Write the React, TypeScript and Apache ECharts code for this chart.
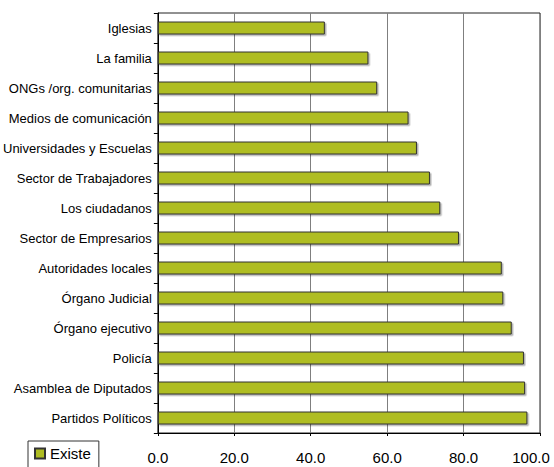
import React, { useEffect, useRef } from "react";
import * as echarts from "echarts";

const categories = [
  "Iglesias",
  "La familia",
  "ONGs /org. comunitarias",
  "Medios de comunicación",
  "Universidades y Escuelas",
  "Sector de Trabajadores",
  "Los ciudadanos",
  "Sector de Empresarios",
  "Autoridades locales",
  "Órgano Judicial",
  "Órgano ejecutivo",
  "Policía",
  "Asamblea de Diputados",
  "Partidos Políticos",
];
const existeValues = [43.7, 55.1, 57.4, 65.6, 67.8, 71.2, 73.9, 78.8, 90.0, 90.4, 92.6, 95.8, 96.1, 96.7];
const seriesName = "Existe";

export default function App() {
  const ref = useRef<HTMLDivElement>(null);
  useEffect(() => {
    if (!ref.current) return;
    const chart = echarts.init(ref.current, null, { renderer: "svg" });
    const font = "'Liberation Sans', Arial, sans-serif";
    chart.setOption({
      animation: false,
      backgroundColor: "#ffffff",
      textStyle: { fontFamily: font },
      grid: {
        left: 153,
        right: 14,
        top: 13,
        bottom: 34,
        show: true,
        borderColor: "#222",
        borderWidth: 1,
        backgroundColor: "transparent",
      },
      legend: {
        show: true,
        data: [seriesName],
        left: 28,
        top: 441,
        orient: "horizontal",
        itemWidth: 10,
        itemHeight: 10,
        icon: "rect",
        borderColor: "#333",
        borderWidth: 1,
        padding: [5, 8, 8, 6],
        textStyle: { fontSize: 15, color: "#000", fontFamily: font },
      },
      xAxis: {
        type: "value",
        min: 0,
        max: 100,
        interval: 20,
        axisLine: { show: true, lineStyle: { color: "#000", width: 1 } },
        axisTick: { show: true, length: 3, lineStyle: { color: "#000" } },
        axisLabel: {
          fontSize: 15,
          color: "#000",
          margin: 17,
          fontFamily: font,
          formatter: (v: number) => (v === 100 ? "{last|100.0}" : v.toFixed(1)),
          rich: {
            last: { fontSize: 15, color: "#000", fontFamily: font, padding: [0, 18, 0, 0] },
          },
        },
        splitLine: { show: true, lineStyle: { color: "#7f7f7f", width: 1 } },
      },
      yAxis: {
        type: "category",
        data: categories,
        inverse: true,
        axisLine: { show: true, lineStyle: { color: "#000", width: 1 } },
        axisTick: { show: true, length: 4, lineStyle: { color: "#000" } },
        axisLabel: { fontSize: 13, color: "#000", margin: 6, fontFamily: font },
        splitLine: { show: false },
      },
      series: [
        {
          name: seriesName,
          type: "bar",
          data: existeValues,
          barWidth: 13,
          itemStyle: {
            color: "#afbd22",
            borderColor: "#333",
            borderWidth: 1,
            shadowColor: "rgba(0,0,0,0.3)",
            shadowOffsetX: 1.5,
            shadowOffsetY: 1.5,
            shadowBlur: 0,
          },
        },
      ],
    });
    return () => chart.dispose();
  }, []);
  return (
    <div
      ref={ref}
      style={{ position: "fixed", left: 0, top: 0, width: 554, height: 467 }}
    />
  );
}
